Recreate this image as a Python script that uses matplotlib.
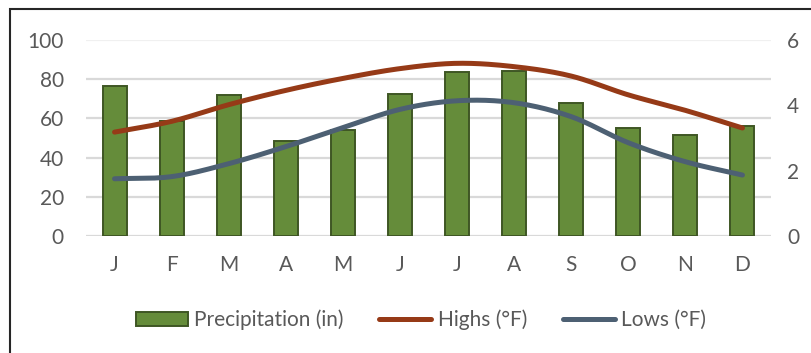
import numpy as np
import matplotlib.pyplot as plt
from matplotlib.patches import Patch, Rectangle
from matplotlib.lines import Line2D

plt.rcParams['font.family'] = ['Lato', 'DejaVu Sans']

months = ['J', 'F', 'M', 'A', 'M', 'J', 'J', 'A', 'S', 'O', 'N', 'D']
precip = [4.59, 3.52, 4.32, 2.92, 3.24, 4.36, 5.02, 5.06, 4.08, 3.32, 3.08, 3.38]
highs = [53, 58.5, 67, 74.3, 80.4, 85.4, 88.1, 86.4, 81.6, 72, 64.1, 55.1]
lows = [29.2, 30.3, 36.9, 45.6, 55.3, 64.6, 69, 68, 60.9, 47.6, 37.9, 31.1]

GREEN = '#658C3A'
GREEN_EDGE = '#3E5624'
RED = '#963A17'
SLATE = '#4D6073'
TEXT = '#595959'
GRID = '#D9D9D9'
FS = 15
LW = 3.6


def smooth(y, n=20):
    # Catmull-Rom curve through the points, like a "smoothed line" chart
    y = np.asarray(y, dtype=float)
    x = np.arange(len(y), dtype=float)
    px = np.concatenate([[2 * x[0] - x[1]], x, [2 * x[-1] - x[-2]]])
    py = np.concatenate([[2 * y[0] - y[1]], y, [2 * y[-1] - y[-2]]])
    xs, ys = [], []
    t = np.linspace(0, 1, n, endpoint=False)
    for i in range(1, len(px) - 2):
        for p, out in ((px, xs), (py, ys)):
            p0, p1, p2, p3 = p[i - 1], p[i], p[i + 1], p[i + 2]
            out.extend(0.5 * ((2 * p1) + (-p0 + p2) * t
                              + (2 * p0 - 5 * p1 + 4 * p2 - p3) * t ** 2
                              + (-p0 + 3 * p1 - 3 * p2 + p3) * t ** 3))
    xs.append(x[-1])
    ys.append(y[-1])
    return np.array(xs), np.array(ys)


fig = plt.figure(figsize=(8.11, 3.53), dpi=100)
W, H = 811, 353
ax = fig.add_axes([86 / W, (H - 236) / H, (771 - 86) / W, 196 / H])
ax2 = ax.twinx()

x = np.arange(len(months))

# precipitation bars on the inner axes (right scale)
ax.set_ylim(0, 6)
ax.set_xlim(-0.5, len(months) - 0.5)
for v in range(0, 101, 20):
    ax.axhline(v * 6 / 100, color=GRID if v < 100 else '#F0F0F0',
               lw=1.6, zorder=0)
ax.bar(x, precip, width=0.42, color=GREEN, edgecolor=GREEN_EDGE,
       linewidth=1.4, zorder=2)
ax.yaxis.tick_right()
ax.set_yticks([0, 2, 4, 6])
ax.set_xticks(x)
ax.set_xticklabels(months)

# temperature lines on the twin axes (left scale)
ax2.set_ylim(0, 100)
ax2.yaxis.tick_left()
ax2.set_yticks(range(0, 101, 20))
hx, hy = smooth(highs)
lx, ly = smooth(lows)
ax2.plot(hx, hy, color=RED, lw=LW, solid_capstyle='round')
ax2.plot(lx, ly, color=SLATE, lw=LW, solid_capstyle='round')

for a in (ax, ax2):
    for s in a.spines.values():
        s.set_visible(False)
ax.tick_params(axis='y', length=0, pad=11.5, labelsize=FS, labelcolor=TEXT)
ax.tick_params(axis='x', length=0, pad=14, labelsize=FS, labelcolor=TEXT)
ax2.tick_params(axis='y', length=0, pad=16, labelsize=FS, labelcolor=TEXT)

handles = [
    Patch(facecolor=GREEN, edgecolor=GREEN_EDGE, linewidth=1.4),
    Line2D([], [], color=RED, lw=LW, solid_capstyle='round'),
    Line2D([], [], color=SLATE, lw=LW, solid_capstyle='round'),
]
labels = ['Precipitation (in)', 'Highs (°F)', 'Lows (°F)']
fig.legend(handles, labels, loc='center', bbox_to_anchor=(421 / W, (H - 320) / H),
           ncol=3, frameon=False, fontsize=FS, labelcolor=TEXT,
           handlelength=2.5, handleheight=0.72, handletextpad=0.3,
           columnspacing=1.7, borderaxespad=0)

# chart border, running off the right and bottom edges
fig.patches.append(Rectangle((9.5 / W, -0.1), 1.2, 1 - 9.5 / H + 0.1,
                             transform=fig.transFigure, fill=False,
                             edgecolor='#262626', lw=1.5))

fig.savefig('out.png', dpi=100)
